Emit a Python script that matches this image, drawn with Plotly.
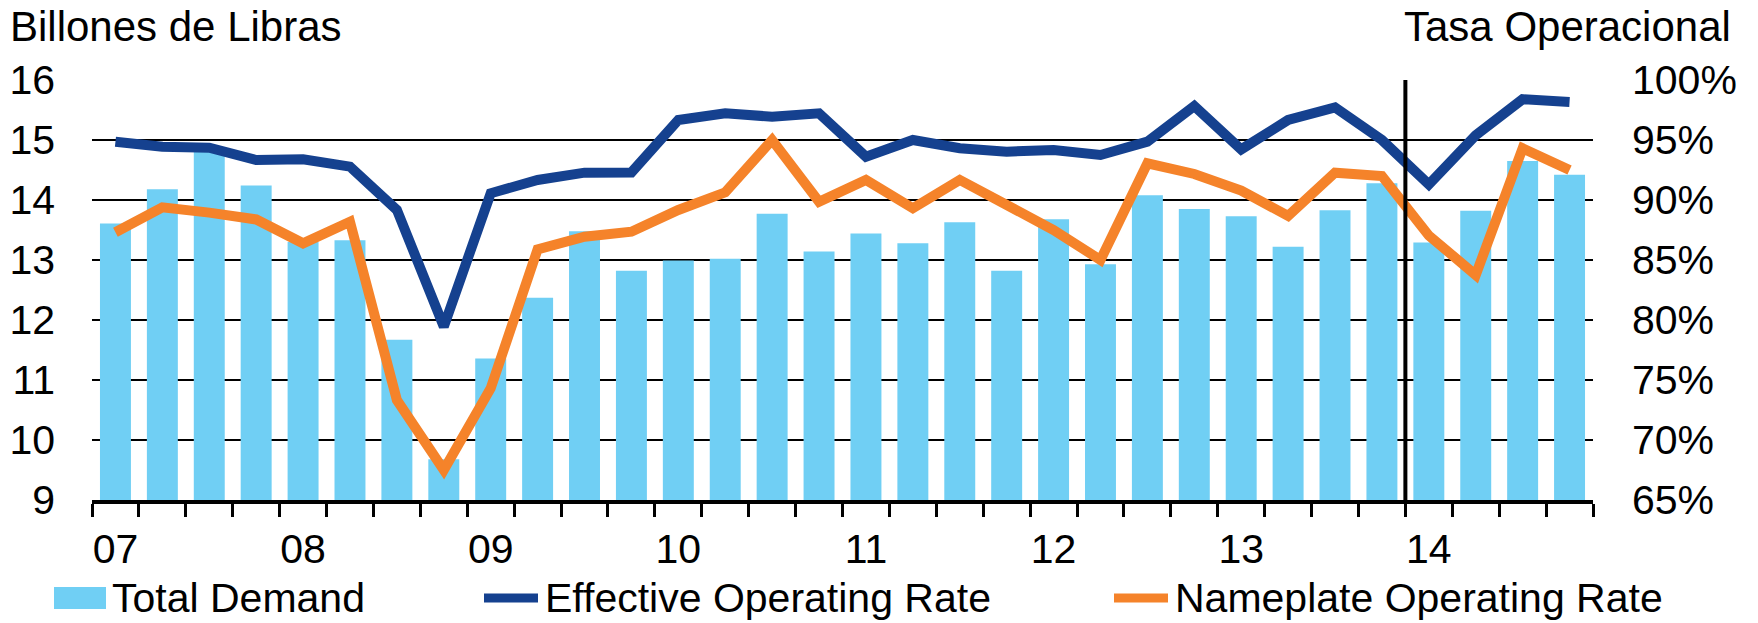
import plotly.graph_objects as go

# quarters 2007Q1 .. 2014Q4
YEARS = ["07", "08", "09", "10", "11", "12", "13", "14"]
QUARTERS = [f"{y}Q{q}" for y in YEARS for q in range(1, 5)]
TICK_TEXT = [q[:2] if q.endswith("Q1") else "" for q in QUARTERS]

# Billones de Libras
TOTAL_DEMAND = [
    13.61, 14.18, 14.85, 14.24, 13.30, 13.33, 11.67, 9.68,
    11.36, 12.37, 13.48, 12.82, 12.99, 13.02, 13.77, 13.14,
    13.44, 13.28, 13.63, 12.82, 13.68, 12.93, 14.08, 13.85,
    13.73, 13.22, 13.83, 14.28, 13.29, 13.82, 14.65, 14.42,
]

# Tasa operacional, %
EFFECTIVE_RATE = [
    94.86, 94.44, 94.36, 93.33, 93.39, 92.78, 89.17, 79.45,
    90.56, 91.67, 92.28, 92.30, 96.67, 97.22, 96.94, 97.22,
    93.61, 95.00, 94.31, 94.03, 94.17, 93.75, 94.86, 97.83,
    94.22, 96.67, 97.72, 95.00, 91.30, 95.40, 98.40, 98.17,
]
NAMEPLATE_RATE = [
    87.31, 89.39, 88.95, 88.38, 86.39, 88.19, 73.33, 67.50,
    74.31, 85.89, 86.94, 87.36, 89.17, 90.64, 95.00, 89.86,
    91.67, 89.31, 91.67, 89.58, 87.50, 85.00, 93.06, 92.17,
    90.78, 88.67, 92.28, 92.00, 87.04, 83.75, 94.31, 92.50,
]

BAR_COLOR = "#70CFF4"
BLUE = "#15418F"
ORANGE = "#F5832A"
FONT = "Liberation Sans, Arial, sans-serif"

W, H = 1758, 623
L, R, T, B = 92, 165, 80, 123
PW, PH = W - L - R, H - T - B


def px(x):
    return (x - L) / PW


def py(y):
    return (H - B - y) / PH


fig = go.Figure()
fig.add_trace(go.Bar(
    x=QUARTERS, y=TOTAL_DEMAND, name="Total Demand",
    marker={"color": BAR_COLOR, "line": {"width": 0}},
))
fig.add_trace(go.Scatter(
    x=QUARTERS, y=EFFECTIVE_RATE, name="Effective Operating Rate", yaxis="y2",
    mode="lines", line={"color": BLUE, "width": 10},
))
fig.add_trace(go.Scatter(
    x=QUARTERS, y=NAMEPLATE_RATE, name="Nameplate Operating Rate", yaxis="y2",
    mode="lines", line={"color": ORANGE, "width": 10},
))

LEG_Y = 598
shapes = [
    # 2014 divider
    {"type": "line", "xref": "x", "yref": "paper", "x0": 27.5, "x1": 27.5,
     "y0": 0, "y1": 1, "line": {"color": "black", "width": 4}, "layer": "above"},
    # legend swatches
    {"type": "rect", "xref": "paper", "yref": "paper",
     "x0": px(54), "x1": px(106), "y0": py(LEG_Y + 11), "y1": py(LEG_Y - 11),
     "fillcolor": BAR_COLOR, "line": {"width": 0}},
    {"type": "line", "xref": "paper", "yref": "paper",
     "x0": px(484), "x1": px(538), "y0": py(LEG_Y), "y1": py(LEG_Y),
     "line": {"color": BLUE, "width": 9}},
    {"type": "line", "xref": "paper", "yref": "paper",
     "x0": px(1114), "x1": px(1168), "y0": py(LEG_Y), "y1": py(LEG_Y),
     "line": {"color": ORANGE, "width": 9}},
]

annotations = [
    {"text": "Billones de Libras", "x": px(8), "y": py(26), "xanchor": "left", "size": 42},
    {"text": "Tasa Operacional", "x": px(1733), "y": py(26), "xanchor": "right", "size": 42},
    {"text": "Total Demand", "x": px(110), "y": py(LEG_Y), "xanchor": "left", "size": 41},
    {"text": "Effective Operating Rate", "x": px(543), "y": py(LEG_Y), "xanchor": "left", "size": 41},
    {"text": "Nameplate Operating Rate", "x": px(1173), "y": py(LEG_Y), "xanchor": "left", "size": 41},
]
for a in annotations:
    size = a.pop("size")
    a.update({"xref": "paper", "yref": "paper", "yanchor": "middle",
              "showarrow": False, "font": {"size": size, "color": "black"}})

fig.update_layout(
    width=W, height=H,
    margin={"l": L, "r": R, "t": T, "b": B},
    paper_bgcolor="white", plot_bgcolor="white",
    font={"family": FONT, "size": 41, "color": "black"},
    showlegend=False,
    bargap=0.34,
    shapes=shapes,
    annotations=annotations,
    xaxis={
        "type": "category", "tickmode": "array",
        "tickvals": QUARTERS, "ticktext": TICK_TEXT, "tickangle": 0,
        "tickson": "boundaries", "ticks": "outside", "ticklen": 13,
        "tickwidth": 3, "tickcolor": "black", "ticklabelstandoff": 10,
        "showline": True, "linecolor": "black", "linewidth": 4,
        "showgrid": False, "range": [-0.5, 31.5], "automargin": False,
    },
    yaxis={
        "range": [9, 16], "dtick": 1, "showgrid": True,
        "gridcolor": "black", "gridwidth": 2, "zeroline": False,
        "showline": False, "ticks": "", "ticklabelstandoff": 36,
        "automargin": False,
    },
    yaxis2={
        "range": [65, 100], "dtick": 5, "ticksuffix": "%",
        "overlaying": "y", "side": "right", "showgrid": False,
        "zeroline": False, "showline": False, "ticks": "",
        "ticklabelstandoff": 38, "automargin": False,
    },
)

fig.write_html(
    "out.html",
    config={"displayModeBar": False},
    post_script="document.body.style.margin = '0';",
)
